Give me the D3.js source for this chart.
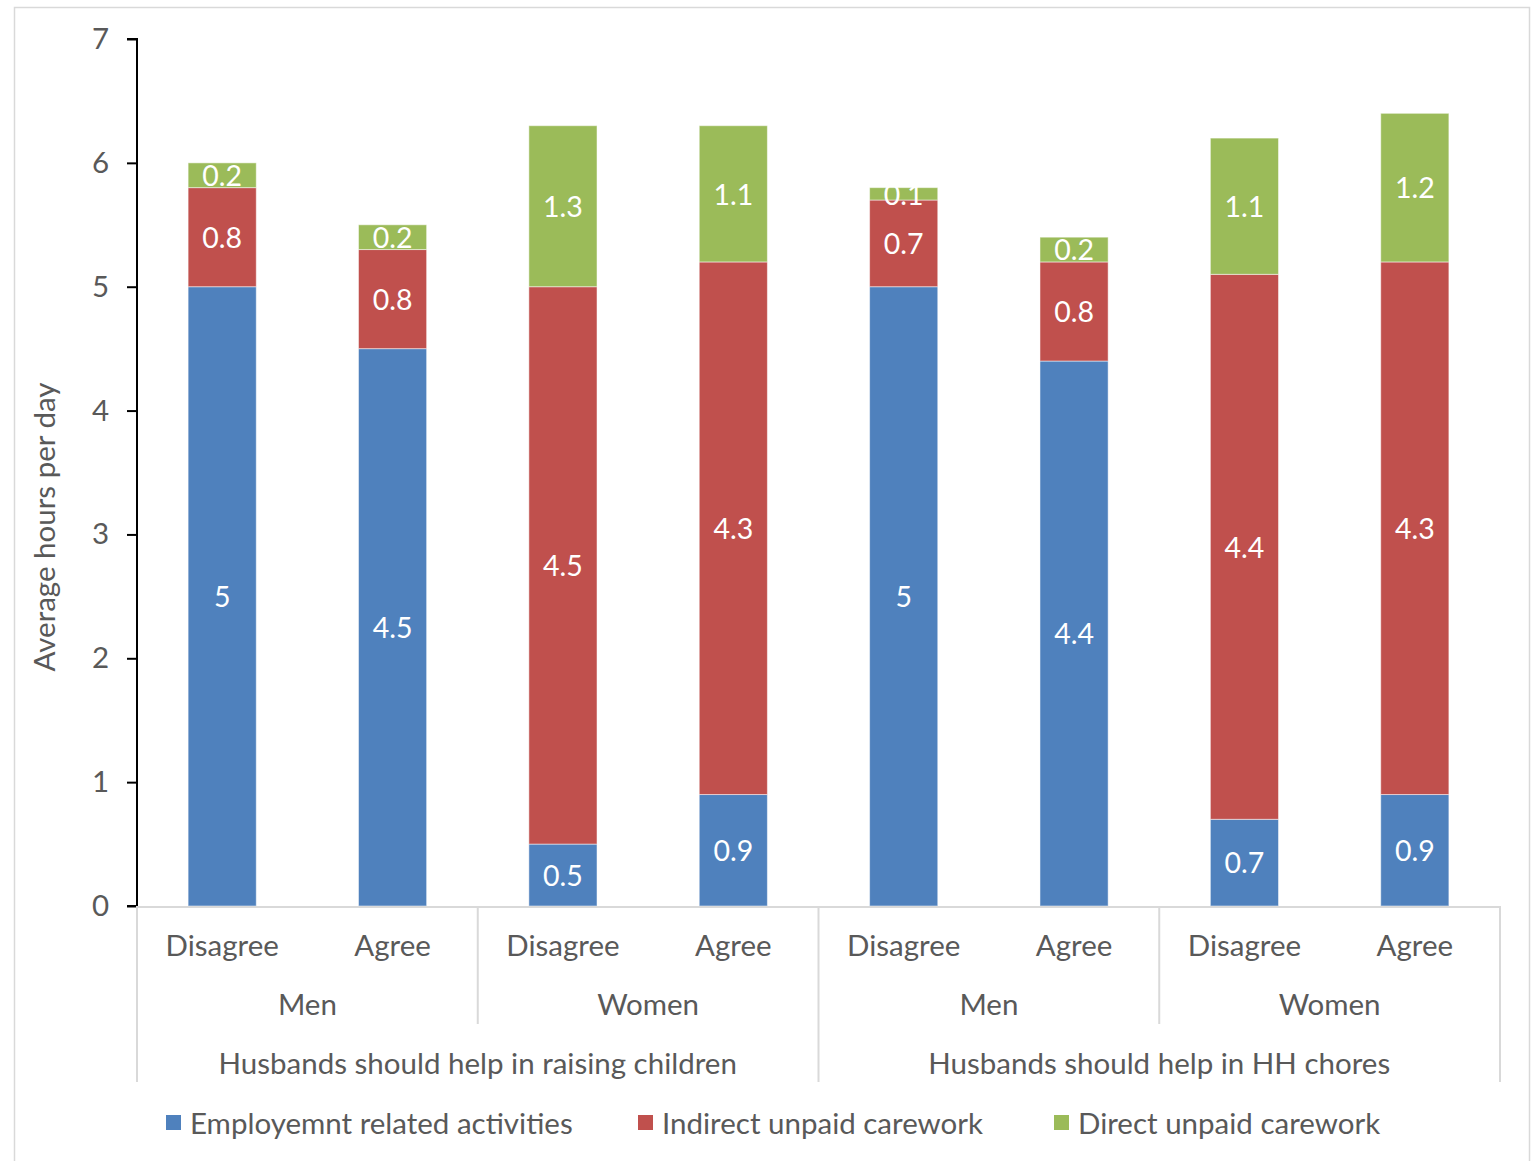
<!DOCTYPE html>
<html><head><meta charset="utf-8">
<script src="https://cdn.jsdelivr.net/npm/d3@7"></script>
<style>body{margin:0;background:#fff;} text{font-family:Lato,"Open Sans",sans-serif;}</style>
</head><body><svg id="c" width="1537" height="1161"></svg>
<script>
const categories = ["Disagree","Agree","Disagree","Agree","Disagree","Agree","Disagree","Agree"];
const genders = ["Men","Women","Men","Women"];
const questions = ["Husbands should help in raising children","Husbands should help in HH chores"];
const seriesNames = ["Employemnt related activities","Indirect unpaid carework","Direct unpaid carework"];
const employment = [5,4.5,0.5,0.9,5,4.4,0.7,0.9];
const indirect = [0.8,0.8,4.5,4.3,0.7,0.8,4.4,4.3];
const direct = [0.2,0.2,1.3,1.1,0.1,0.2,1.1,1.2];
const yTicks = [0,1,2,3,4,5,6,7];
const colors = ["#4f81bd","#c0504d","#9bbb59"];

const svg = d3.select("#c");
const textCol = "#595959";
const fs = 29.5;
svg.append("rect").attr("x",14.5).attr("y",7.5).attr("width",1515).attr("height",1160).attr("fill","none").attr("stroke","#d9d9d9").attr("stroke-width",1.5);

const x0 = 137, x1 = 1500, yTop = 39, yBot = 906;
const idx = categories.map((d,i)=>i);
const x = d3.scaleBand().domain(idx).range([x0,x1]).paddingInner(0.6).paddingOuter(0.3);
const y = d3.scaleLinear().domain([0,7]).range([yBot,yTop]);

const data = idx.map(i=>({i, employment:employment[i], indirect:indirect[i], direct:direct[i]}));
const stack = d3.stack().keys(["employment","indirect","direct"])(data);
const vals = [employment, indirect, direct];

stack.forEach((layer,k)=>{
  const g = svg.append("g");
  g.selectAll("rect").data(layer).join("rect")
    .attr("x",d=>x(d.data.i)).attr("width",x.bandwidth())
    .attr("y",d=>y(d[1])).attr("height",d=>y(d[0])-y(d[1]))
    .attr("fill",colors[k]).attr("stroke","#ffffff").attr("stroke-opacity",0.5).attr("stroke-width",1);
  g.selectAll("text").data(layer).join("text")
    .attr("x",d=>x(d.data.i)+x.bandwidth()/2)
    .attr("y",d=>(y(d[0])+y(d[1]))/2)
    .attr("dy","0.38em").attr("text-anchor","middle")
    .attr("fill","#fff").attr("font-size",28.5)
    .text((d,j)=>vals[k][d.data.i]);
});

// Y axis
const yAxis = d3.axisLeft(y).tickValues(yTicks).tickSize(10).tickPadding(18).tickFormat(d3.format("d"));
const ya = svg.append("g").attr("transform",`translate(${x0},0)`).call(yAxis);
ya.select(".domain").attr("stroke","#000").attr("stroke-width",2).attr("d",`M-10,${yTop}H0V${yBot}H-10`);
ya.selectAll(".tick line").attr("stroke","#000").attr("stroke-width",2);
ya.selectAll(".tick text").attr("fill",textCol).attr("font-size",fs).attr("font-family","Lato,sans-serif");

svg.append("text").attr("transform",`translate(55,527) rotate(-90)`).attr("text-anchor","middle")
  .attr("fill",textCol).attr("font-size",fs).text("Average hours per day");

// bottom axis & separators
const sep = "#d9d9d9";
svg.append("line").attr("x1",x0).attr("x2",x1).attr("y1",yBot+1).attr("y2",yBot+1).attr("stroke",sep).attr("stroke-width",2);
const step = x.step();
const bound = i => x0 + i*step;
for(let i=0;i<=8;i+=2){
  const full = (i%4===0);
  svg.append("line").attr("x1",bound(i)).attr("x2",bound(i)).attr("y1",yBot).attr("y2",full?1082:1024).attr("stroke",sep).attr("stroke-width",2);
}
svg.selectAll("text.cat").data(categories).join("text").attr("class","cat")
  .attr("x",(d,i)=>x(i)+x.bandwidth()/2).attr("y",956).attr("text-anchor","middle")
  .attr("fill",textCol).attr("font-size",fs).text(d=>d);
svg.selectAll("text.gen").data(genders).join("text").attr("class","gen")
  .attr("x",(d,i)=>bound(i*2)+step).attr("y",1015).attr("text-anchor","middle")
  .attr("fill",textCol).attr("font-size",fs).text(d=>d);
svg.selectAll("text.q").data(questions).join("text").attr("class","q")
  .attr("x",(d,i)=>bound(i*4)+2*step).attr("y",1074).attr("text-anchor","middle")
  .attr("fill",textCol).attr("font-size",fs).text(d=>d);

// legend
const legX = [166,638,1054];
seriesNames.forEach((n,k)=>{
  svg.append("rect").attr("x",legX[k]).attr("y",1115).attr("width",15).attr("height",15).attr("fill",colors[k]);
  svg.append("text").attr("x",legX[k]+24).attr("y",1134).attr("fill",textCol).attr("font-size",fs).text(n);
});
</script></body></html>
